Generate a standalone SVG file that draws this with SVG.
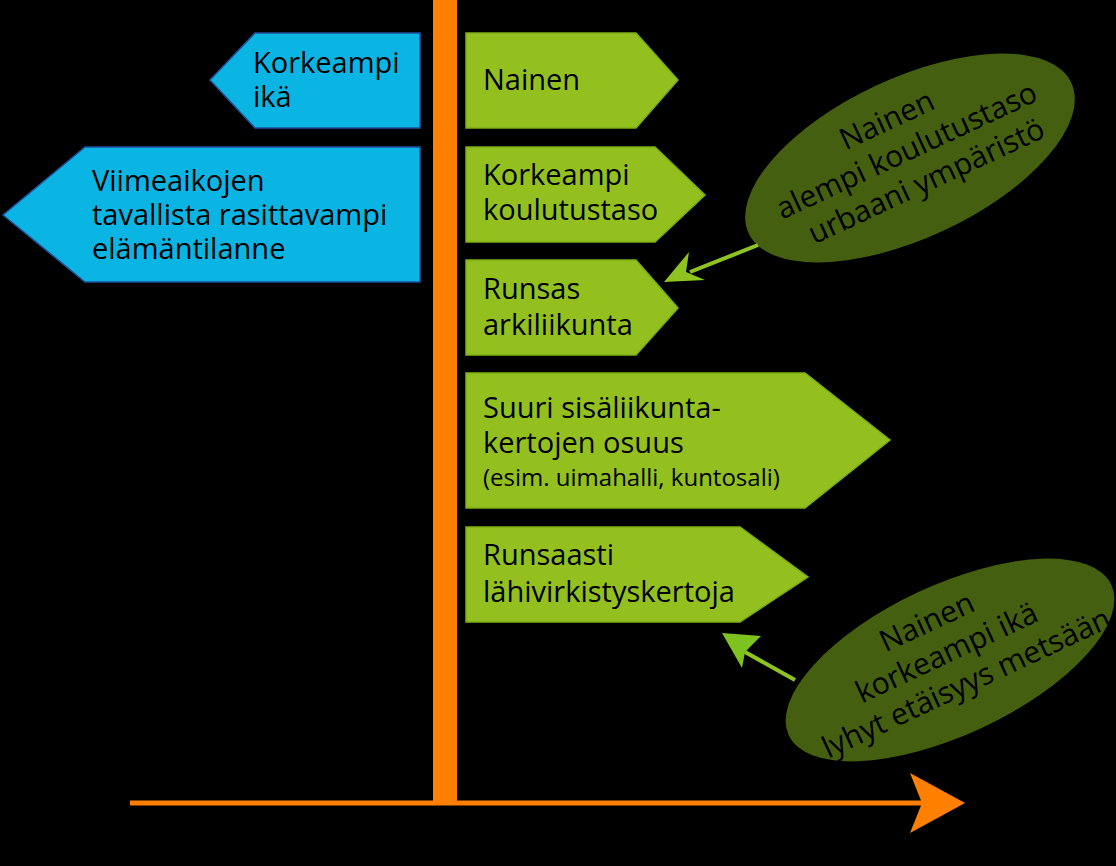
<svg xmlns="http://www.w3.org/2000/svg" width="1116" height="866" viewBox="0 0 1116 866">
<defs>
<style>
.t{font-family:"Open Sans","Noto Sans",sans-serif;font-size:29px;fill:#000}
.s{font-size:24px}
.e{font-size:30px}
.blue{fill:#0bb5e3;stroke:#1f4e9a;stroke-width:1.5}
.green{fill:#93c01f;stroke:#7fae14;stroke-width:1.5}
.ell{fill:#455f10}
.con{stroke:#8fc31f;stroke-width:4;fill:none}
</style>
</defs>
<rect width="1116" height="866" fill="#000"/>
<g id="axes">
<rect x="433" y="0" width="24" height="805" fill="#ff8000"/>
<line x1="130" y1="803" x2="930" y2="803" stroke="#ff8000" stroke-width="5"/>
<polygon points="910,773 965,803 910,833 922,803" fill="#ff8000"/>
</g>
<g id="b1"><polygon class="blue" points="420,33 420,128 255,128 210,80 255,33"/>
<text class="t" x="253" y="73">Korkeampi</text><text class="t" x="253" y="107">ikä</text></g>
<g id="b2"><polygon class="blue" points="420,147 420,282 85,282 3,215 85,147"/>
<text class="t" x="92" y="191">Viimeaikojen</text><text class="t" x="92" y="225">tavallista rasittavampi</text><text class="t" x="92" y="259">elämäntilanne</text></g>
<g id="g1"><polygon class="green" points="466,33 636,33 678,80 636,128 466,128"/>
<text class="t" x="483" y="90">Nainen</text></g>
<g id="g2"><polygon class="green" points="466,147 655,147 705,195 655,242 466,242"/>
<text class="t" x="483" y="185">Korkeampi</text><text class="t" x="483" y="220">koulutustaso</text></g>
<g id="g3"><polygon class="green" points="466,260 636,260 678,308 636,355 466,355"/>
<text class="t" x="483" y="299">Runsas</text><text class="t" x="483" y="335">arkiliikunta</text></g>
<g id="g4"><polygon class="green" points="466,373 805,373 890,440 805,508 466,508"/>
<text class="t" x="483" y="418">Suuri sisäliikunta-</text><text class="t" x="483" y="453">kertojen osuus</text><text class="t s" x="483" y="486">(esim. uimahalli, kuntosali)</text></g>
<g id="g5"><polygon class="green" points="466,527 740,527 808,577 740,622 466,622"/>
<text class="t" x="483" y="565">Runsaasti</text><text class="t" x="483" y="602">lähivirkistyskertoja</text></g>
<g id="e1"><ellipse class="ell" cx="910" cy="158" rx="178" ry="80" transform="rotate(-25 910 158)"/>
<g transform="rotate(-25 910 158)" text-anchor="middle"><text class="t e" x="905" y="124">Nainen</text><text class="t e" x="910" y="160">alempi koulutustaso</text><text class="t e" x="915" y="196">urbaani ympäristö</text></g></g>
<g id="e2"><ellipse class="ell" cx="950" cy="660" rx="178" ry="75" transform="rotate(-25 950 660)"/>
<g transform="rotate(-25 950 660)" text-anchor="middle"><text class="t e" x="945" y="626">Nainen</text><text class="t e" x="950" y="662">korkeampi ikä</text><text class="t e" x="955" y="698">lyhyt etäisyys metsään</text></g></g>
<g id="connectors">
<line class="con" x1="758" y1="245" x2="690" y2="272"/>
<polygon points="664,282 689,252 686,272 705,280" fill="#8fc31f"/>
<line class="con" x1="795" y1="680" x2="745" y2="652"/>
<polygon points="722,633 761,636 745,652 742,668" fill="#7dc21f"/>
</g>
</svg>
